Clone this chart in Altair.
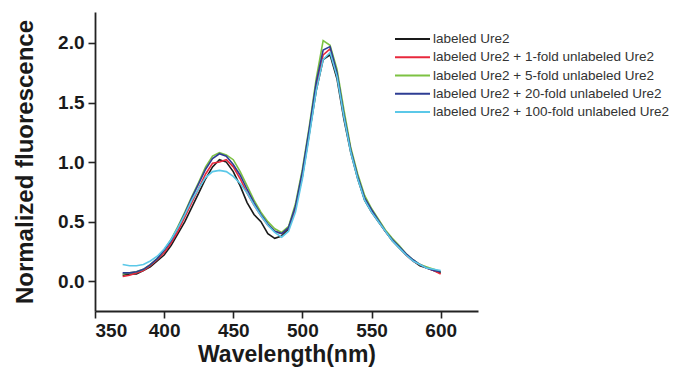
import altair as alt
import pandas as pd

wavelength = list(range(370, 601, 5))

series_names = [
    "labeled Ure2",
    "labeled Ure2 + 1-fold unlabeled Ure2",
    "labeled Ure2 + 5-fold unlabeled Ure2",
    "labeled Ure2 + 20-fold unlabeled Ure2",
    "labeled Ure2 + 100-fold unlabeled Ure2",
]
series_colors = ["#1a1a1a", "#e8283c", "#7dc242", "#2e3d93", "#5bc8e8"]

black = [0.05, 0.06, 0.06, 0.09, 0.12, 0.17, 0.22, 0.30, 0.40, 0.50, 0.62, 0.74, 0.86, 0.96, 1.02, 1.00,
         0.92, 0.80, 0.66, 0.56, 0.50, 0.40, 0.36, 0.38, 0.44, 0.62, 0.88, 1.24, 1.60, 1.86, 1.90, 1.70,
         1.36, 1.08, 0.86, 0.68, 0.58, 0.50, 0.42, 0.34, 0.28, 0.22, 0.17, 0.13, 0.11, 0.09, 0.07]
red = [0.04, 0.05, 0.07, 0.09, 0.13, 0.18, 0.24, 0.32, 0.42, 0.54, 0.66, 0.78, 0.90, 0.99, 1.00, 1.02,
       0.96, 0.86, 0.74, 0.64, 0.55, 0.47, 0.42, 0.40, 0.45, 0.62, 0.90, 1.26, 1.64, 1.90, 1.95, 1.74,
       1.40, 1.10, 0.88, 0.70, 0.60, 0.51, 0.42, 0.35, 0.29, 0.22, 0.17, 0.14, 0.11, 0.09, 0.06]
green = [0.06, 0.07, 0.08, 0.10, 0.14, 0.19, 0.26, 0.35, 0.46, 0.58, 0.71, 0.83, 0.96, 1.05, 1.08, 1.06,
         1.02, 0.92, 0.80, 0.68, 0.58, 0.50, 0.44, 0.41, 0.46, 0.65, 0.94, 1.30, 1.70, 2.02, 1.98, 1.78,
         1.44, 1.12, 0.90, 0.72, 0.61, 0.52, 0.43, 0.36, 0.30, 0.23, 0.18, 0.14, 0.12, 0.10, 0.08]
blue = [0.07, 0.07, 0.08, 0.10, 0.14, 0.19, 0.26, 0.34, 0.45, 0.57, 0.70, 0.82, 0.94, 1.03, 1.07, 1.05,
        0.98, 0.89, 0.77, 0.66, 0.56, 0.48, 0.42, 0.40, 0.45, 0.63, 0.92, 1.28, 1.67, 1.94, 1.97, 1.75,
        1.40, 1.10, 0.88, 0.70, 0.60, 0.51, 0.42, 0.35, 0.29, 0.23, 0.18, 0.14, 0.11, 0.09, 0.08]
cyan = [0.14, 0.13, 0.13, 0.14, 0.17, 0.21, 0.27, 0.35, 0.45, 0.56, 0.68, 0.78, 0.87, 0.92, 0.93, 0.92,
        0.88, 0.82, 0.74, 0.64, 0.55, 0.47, 0.41, 0.37, 0.42, 0.58, 0.86, 1.22, 1.60, 1.86, 1.92, 1.72,
        1.38, 1.08, 0.86, 0.68, 0.58, 0.50, 0.42, 0.34, 0.28, 0.22, 0.17, 0.14, 0.11, 0.10, 0.09]

x_ticks = [350, 400, 450, 500, 550, 600]
y_ticks = [0.0, 0.5, 1.0, 1.5, 2.0]

rows = []
for name, vals in zip(series_names, [black, red, green, blue, cyan]):
    for w, v in zip(wavelength, vals):
        rows.append({"wavelength": w, "value": v, "series": name})
df = pd.DataFrame(rows)
legend_df = pd.DataFrame({"series": series_names})

FONT = "Liberation Sans"
color_scale = alt.Scale(domain=series_names, range=series_colors)

lines = (
    alt.Chart(df)
    .mark_line(strokeWidth=1.6)
    .encode(
        x=alt.X(
            "wavelength:Q",
            scale=alt.Scale(domain=[350, 627], nice=False, zero=False),
            axis=alt.Axis(values=x_ticks, title="Wavelength(nm)", format="d"),
        ),
        y=alt.Y(
            "value:Q",
            scale=alt.Scale(domain=[-0.25, 2.26], nice=False, zero=False),
            axis=alt.Axis(values=y_ticks, title="Normalized fluorescence", format=".1f"),
        ),
        color=alt.Color("series:N", scale=color_scale, legend=None),
        detail="series:N",
    )
)

leg_y = alt.Y(
    "series:N",
    scale=alt.Scale(type="point", domain=series_names, range=[27, 100], padding=0),
    axis=None,
)

legend_rules = (
    alt.Chart(legend_df)
    .mark_rule(strokeWidth=2)
    .encode(
        x=alt.value(300),
        x2=alt.value(335),
        y=leg_y,
        color=alt.Color("series:N", scale=color_scale, legend=None),
    )
)

legend_text = (
    alt.Chart(legend_df)
    .mark_text(align="left", baseline="middle", font=FONT, fontSize=13.5, color="#333333")
    .encode(
        x=alt.value(338),
        y=leg_y,
        text="series:N",
    )
)

chart = (
    alt.layer(lines, legend_rules, legend_text)
    .resolve_scale(y="independent")
    .properties(
        width=383,
        height=299,
        autosize=alt.AutoSizeParams(type="none"),
        padding={"left": 87, "top": 4, "right": 194, "bottom": 56},
    )
    .configure_view(stroke=None)
    .configure_axis(
        grid=False,
        domainColor="#222222",
        domainWidth=1.8,
        tickColor="#222222",
        tickWidth=1.6,
        tickSize=7,
        labelFont=FONT,
        labelFontSize=19,
        labelFontWeight="bold",
        labelColor="#1a1a1a",
        titleFont=FONT,
        titleFontWeight="bold",
        titleColor="#1a1a1a",
    )
    .configure_axisX(labelPadding=3, titlePadding=3, titleFontSize=23)
    .configure_axisY(labelPadding=4, titlePadding=20, titleFontSize=24)
)

chart.save("out.html", embed_options={"renderer": "svg", "actions": False})
